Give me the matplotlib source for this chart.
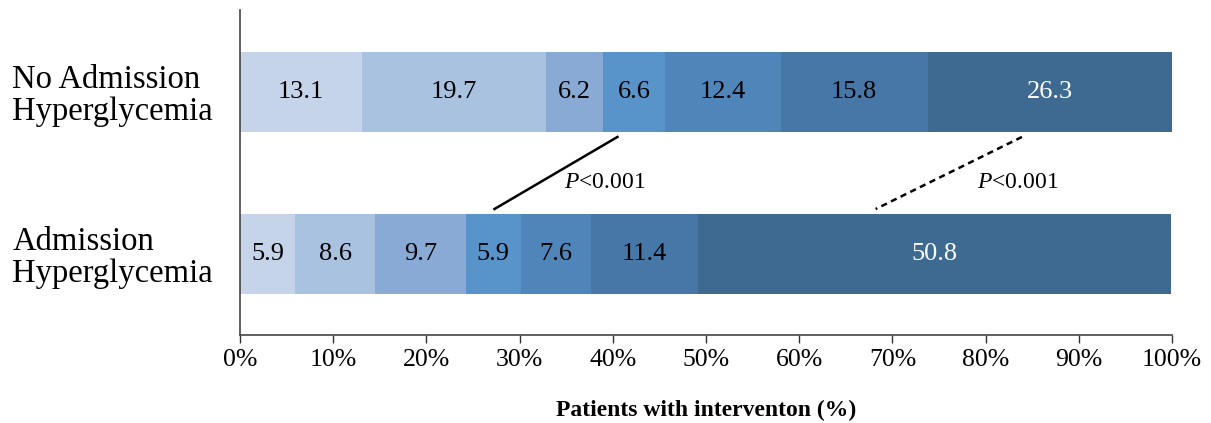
import matplotlib
matplotlib.use("Agg")
import matplotlib.pyplot as plt
import numpy as np

categories = ["Admission\nHyperglycemia", "No Admission\nHyperglycemia"]
no_admission = [13.1, 19.7, 6.2, 6.6, 12.4, 15.8, 26.3]
admission = [5.9, 8.6, 9.7, 5.9, 7.6, 11.4, 50.8]
colors = ["#C5D4E8", "#A9C2E0", "#89AAD4", "#5893C9", "#5085B9", "#4777A7", "#3E6990"]
text_colors = ["black"] * 6 + ["white"]
xticks = list(range(0, 101, 10))
xtick_labels = [f"{t}%" for t in xticks]
# p-value connector lines: (x on top bar, x on bottom bar)
solid_line = (40.5, 27.3)
dashed_line = (83.9, 68.2)
p_text = "$\\it{P}$<0.001"

plt.rcParams['font.family'] = ['Liberation Serif', 'DejaVu Serif']
plt.rcParams['mathtext.fontset'] = 'custom'
plt.rcParams['mathtext.it'] = 'Liberation Serif:italic'
plt.rcParams['mathtext.rm'] = 'Liberation Serif'

fig = plt.figure(figsize=(12.11, 4.23), dpi=100)
ax = fig.add_axes([240/1211, 1-335/423, (1172-240)/1211, (335-10)/423])

rows = [admission, no_admission]
ypos = [0, 1]
h = 0.495
for y, vals in zip(ypos, rows):
    left = 0
    for v, c, tc in zip(vals, colors, text_colors):
        ax.barh(y, v, left=left, height=h, color=c, edgecolor='none')
        ax.text(left + v/2, y, f"{v}", ha='center', va='center', fontsize=19, color=tc)
        left += v

top_edge = 1 - h/2 - 0.03
bot_edge = 0 + h/2 + 0.03
ax.plot([solid_line[0], solid_line[1]], [top_edge, bot_edge], color='black', lw=1.8)
ax.plot([dashed_line[0], dashed_line[1]], [top_edge, bot_edge], color='black', lw=1.8, ls=(0, (2.5, 1.8)))
ax.text(34.8, 0.44, p_text, fontsize=17, ha='left', va='center')
ax.text(79.1, 0.44, p_text, fontsize=17, ha='left', va='center')

ax.set_xlim(0, 100)
ax.set_ylim(-0.5, 1.506)
ax.set_xticks(xticks)
ax.set_xticklabels(xtick_labels, fontsize=18.5)
ax.tick_params(axis='x', direction='out', length=6, width=1, pad=4, color='#333333')
ax.set_yticks(ypos)
ax.set_yticklabels(categories, fontsize=23.5, linespacing=1.05)
for lab in ax.get_yticklabels():
    lab.set_horizontalalignment('left')
    lab.set_y(lab.get_position()[1])
ax.tick_params(axis='y', length=0, pad=164)
for s in ['top', 'right']:
    ax.spines[s].set_visible(False)
for s in ['left', 'bottom']:
    ax.spines[s].set_color('#444444')
    ax.spines[s].set_linewidth(1.2)
ax.set_xlabel("Patients with interventon (%)", fontsize=17, fontweight='bold', labelpad=21)

fig.savefig("out.png", dpi=100)
